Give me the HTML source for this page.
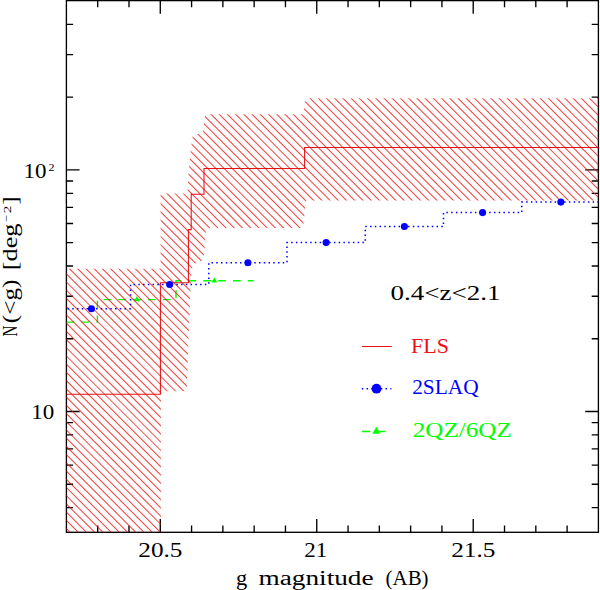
<!DOCTYPE html>
<html lang="en"><head><meta charset="utf-8"><title>N(&lt;g) vs g magnitude</title>
<style>html,body{margin:0;padding:0;background:#fff}body{width:600px;height:590px;overflow:hidden}svg{display:block}text{font-family:"Liberation Serif","DejaVu Serif",serif;font-size:20.5px;fill:#000}</style></head><body>
<svg width="600" height="590" viewBox="0 0 600 590">
<rect width="600" height="590" fill="#fff"/>
<defs>
</defs>
<polygon fill="#fffcfc" points="66.4,268.7 160.6,268.7 160.6,193.6 187.4,193.6 188.6,173.4 190.7,151 192.5,136.5 203.2,131.5 204.2,123.3 205.3,114.2 303.4,114.2 305.6,98.3 598.4,98.3 598.4,200.6 306,200.6 303,228 206,228.2 205,245 203.8,255 202,261 192.6,264.5 190.7,283 189.6,314 188.1,350 186.8,391.2 160.9,391.2 160.9,532.3 66.4,532.3"/>
<g stroke="#000" stroke-width="1.35" fill="none">
<rect x="66.4" y="0.6" width="532" height="531.7"/>
<path d="M97.69 532.3v-6.7M97.69 0.6v6.7M128.99 532.3v-6.7M128.99 0.6v6.7M160.28 532.3v-13.2M160.28 0.6v13.2M191.58 532.3v-6.7M191.58 0.6v6.7M222.87 532.3v-6.7M222.87 0.6v6.7M254.16 532.3v-6.7M254.16 0.6v6.7M285.46 532.3v-6.7M285.46 0.6v6.7M316.75 532.3v-13.2M316.75 0.6v13.2M348.05 532.3v-6.7M348.05 0.6v6.7M379.34 532.3v-6.7M379.34 0.6v6.7M410.64 532.3v-6.7M410.64 0.6v6.7M441.93 532.3v-6.7M441.93 0.6v6.7M473.22 532.3v-13.2M473.22 0.6v13.2M504.52 532.3v-6.7M504.52 0.6v6.7M535.81 532.3v-6.7M535.81 0.6v6.7M567.11 532.3v-6.7M567.11 0.6v6.7M66.4 507.64h6.7M598.4 507.64h-6.7M66.4 484.23h6.7M598.4 484.23h-6.7M66.4 465.1h6.7M598.4 465.1h-6.7M66.4 448.92h6.7M598.4 448.92h-6.7M66.4 434.91h6.7M598.4 434.91h-6.7M66.4 422.56h6.7M598.4 422.56h-6.7M66.4 411.5h13.2M598.4 411.5h-13.2M66.4 338.77h6.7M598.4 338.77h-6.7M66.4 296.23h6.7M598.4 296.23h-6.7M66.4 266.04h6.7M598.4 266.04h-6.7M66.4 242.63h6.7M598.4 242.63h-6.7M66.4 223.5h6.7M598.4 223.5h-6.7M66.4 207.32h6.7M598.4 207.32h-6.7M66.4 193.31h6.7M598.4 193.31h-6.7M66.4 180.96h6.7M598.4 180.96h-6.7M66.4 169.9h13.2M598.4 169.9h-13.2M66.4 97.17h6.7M598.4 97.17h-6.7M66.4 54.63h6.7M598.4 54.63h-6.7M66.4 24.44h6.7M598.4 24.44h-6.7"/>
</g>
<polyline fill="none" stroke="#00ff00" stroke-width="1.4" stroke-dasharray="7.7 7.13" stroke-dashoffset="14.55" points="66.4,322.1 97.4,322.1 97.4,299.6 176,299.6 176,280.8 253.6,280.8"/>
<polygon fill="#00ff00" points="136.9,296.06 139.8,301.26 134,301.26"/>
<polygon fill="#00ff00" points="214.4,277.26 217.3,282.46 211.5,282.46"/>
<clipPath id="hc"><polygon points="66.4,268.7 160.6,268.7 160.6,193.6 187.4,193.6 188.6,173.4 190.7,151 192.5,136.5 203.2,131.5 204.2,123.3 205.3,114.2 303.4,114.2 305.6,98.3 598.4,98.3 598.4,200.6 306,200.6 303,228 206,228.2 205,245 203.8,255 202,261 192.6,264.5 190.7,283 189.6,314 188.1,350 186.8,391.2 160.9,391.2 160.9,532.3 66.4,532.3"/></clipPath>
<path clip-path="url(#hc)" d="M-372.24 90L72.06 534.3M-364.02 90L80.28 534.3M-355.8 90L88.5 534.3M-347.58 90L96.72 534.3M-339.36 90L104.94 534.3M-331.14 90L113.16 534.3M-322.92 90L121.38 534.3M-314.7 90L129.6 534.3M-306.48 90L137.82 534.3M-298.26 90L146.04 534.3M-290.04 90L154.26 534.3M-281.82 90L162.48 534.3M-273.6 90L170.7 534.3M-265.38 90L178.92 534.3M-257.16 90L187.14 534.3M-248.94 90L195.36 534.3M-240.72 90L203.58 534.3M-232.5 90L211.8 534.3M-224.28 90L220.02 534.3M-216.06 90L228.24 534.3M-207.84 90L236.46 534.3M-199.62 90L244.68 534.3M-191.4 90L252.9 534.3M-183.18 90L261.12 534.3M-174.96 90L269.34 534.3M-166.74 90L277.56 534.3M-158.52 90L285.78 534.3M-150.3 90L294 534.3M-142.08 90L302.22 534.3M-133.86 90L310.44 534.3M-125.64 90L318.66 534.3M-117.42 90L326.88 534.3M-109.2 90L335.1 534.3M-100.98 90L343.32 534.3M-92.76 90L351.54 534.3M-84.54 90L359.76 534.3M-76.32 90L367.98 534.3M-68.1 90L376.2 534.3M-59.88 90L384.42 534.3M-51.66 90L392.64 534.3M-43.44 90L400.86 534.3M-35.22 90L409.08 534.3M-27 90L417.3 534.3M-18.78 90L425.52 534.3M-10.56 90L433.74 534.3M-2.34 90L441.96 534.3M5.88 90L450.18 534.3M14.1 90L458.4 534.3M22.32 90L466.62 534.3M30.54 90L474.84 534.3M38.76 90L483.06 534.3M46.98 90L491.28 534.3M55.2 90L499.5 534.3M63.42 90L507.72 534.3M71.64 90L515.94 534.3M79.86 90L524.16 534.3M88.08 90L532.38 534.3M96.3 90L540.6 534.3M104.52 90L548.82 534.3M112.74 90L557.04 534.3M120.96 90L565.26 534.3M129.18 90L573.48 534.3M137.4 90L581.7 534.3M145.62 90L589.92 534.3M153.84 90L598.14 534.3M162.06 90L606.36 534.3M170.28 90L614.58 534.3M178.5 90L622.8 534.3M186.72 90L631.02 534.3M194.94 90L639.24 534.3M203.16 90L647.46 534.3M211.38 90L655.68 534.3M219.6 90L663.9 534.3M227.82 90L672.12 534.3M236.04 90L680.34 534.3M244.26 90L688.56 534.3M252.48 90L696.78 534.3M260.7 90L705 534.3M268.92 90L713.22 534.3M277.14 90L721.44 534.3M285.36 90L729.66 534.3M293.58 90L737.88 534.3M301.8 90L746.1 534.3M310.02 90L754.32 534.3M318.24 90L762.54 534.3M326.46 90L770.76 534.3M334.68 90L778.98 534.3M342.9 90L787.2 534.3M351.12 90L795.42 534.3M359.34 90L803.64 534.3M367.56 90L811.86 534.3M375.78 90L820.08 534.3M384 90L828.3 534.3M392.22 90L836.52 534.3M400.44 90L844.74 534.3M408.66 90L852.96 534.3M416.88 90L861.18 534.3M425.1 90L869.4 534.3M433.32 90L877.62 534.3M441.54 90L885.84 534.3M449.76 90L894.06 534.3M457.98 90L902.28 534.3M466.2 90L910.5 534.3M474.42 90L918.72 534.3M482.64 90L926.94 534.3M490.86 90L935.16 534.3M499.08 90L943.38 534.3M507.3 90L951.6 534.3M515.52 90L959.82 534.3M523.74 90L968.04 534.3M531.96 90L976.26 534.3M540.18 90L984.48 534.3M548.4 90L992.7 534.3M556.62 90L1000.92 534.3M564.84 90L1009.14 534.3M573.06 90L1017.36 534.3M581.28 90L1025.58 534.3M589.5 90L1033.8 534.3M597.72 90L1042.02 534.3" stroke="#e81212" stroke-width="1.02" stroke-opacity="0.78" fill="none"/>
<polyline fill="none" stroke="#e41014" stroke-width="1.05" stroke-linejoin="miter" points="66.4,394.3 160.4,394.3 160.4,282.8 188.4,282.8 188.4,229.6 191.2,229.6 191.2,194.3 204,194.3 204,168.4 304.6,168.4 304.6,147.4 598.4,147.4"/>
<polyline fill="none" stroke="#0000ff" stroke-width="1.5" stroke-dasharray="1.5 3.25" stroke-dashoffset="-1.1" points="66.4,308.7 130.55,308.7 130.55,284.5 208.79,284.5 208.79,262.7 287.02,262.7 287.02,242.6 365.26,242.6 365.26,226.5 443.49,226.5 443.49,212.6 521.73,212.6 521.73,202.1 598.4,202.1"/>
<circle cx="91.44" cy="308.7" r="3.55" fill="#0000ff"/>
<circle cx="169.67" cy="284.5" r="3.55" fill="#0000ff"/>
<circle cx="247.91" cy="262.7" r="3.55" fill="#0000ff"/>
<circle cx="326.14" cy="242.6" r="3.55" fill="#0000ff"/>
<circle cx="404.38" cy="226.5" r="3.55" fill="#0000ff"/>
<circle cx="482.61" cy="212.6" r="3.55" fill="#0000ff"/>
<circle cx="560.85" cy="202.1" r="3.55" fill="#0000ff"/>
<text x="138.3" y="557.3" textLength="44.2" lengthAdjust="spacingAndGlyphs">20.5</text>
<text x="304.2" y="557.3" textLength="23" lengthAdjust="spacingAndGlyphs">21</text>
<text x="451.2" y="557.3" textLength="44.2" lengthAdjust="spacingAndGlyphs">21.5</text>
<text x="31.2" y="418.5" textLength="23" lengthAdjust="spacingAndGlyphs">10</text>
<text x="23.4" y="177.5" textLength="23" lengthAdjust="spacingAndGlyphs">10</text>
<text x="48.6" y="171" textLength="6" lengthAdjust="spacingAndGlyphs" style="font-size:11.3px">2</text>
<text x="236" y="584.8" textLength="11.2" lengthAdjust="spacingAndGlyphs">g</text>
<text x="258.6" y="584.8" textLength="115" lengthAdjust="spacingAndGlyphs">magnitude</text>
<text x="385.6" y="584.8" textLength="43" lengthAdjust="spacingAndGlyphs">(AB)</text>
<text x="390.5" y="300.3" textLength="110" lengthAdjust="spacingAndGlyphs">0.4&lt;z&lt;2.1</text>
<text x="411" y="352.8" textLength="38" lengthAdjust="spacingAndGlyphs" style="fill:#f01014">FLS</text>
<text x="412.2" y="394.1" textLength="66.5" lengthAdjust="spacingAndGlyphs" style="fill:#0000ff">2SLAQ</text>
<text x="412.8" y="437.2" textLength="99" lengthAdjust="spacingAndGlyphs" style="fill:#00ff00">2QZ/6QZ</text>
<g transform="translate(16.5 0) rotate(-90)">
<text x="-336.4" y="0" textLength="10.8" lengthAdjust="spacingAndGlyphs">N</text>
<text x="-323.2" y="0" textLength="43.6" lengthAdjust="spacingAndGlyphs">(&lt;g)</text>
<text x="-270.3" y="0" textLength="46.8" lengthAdjust="spacingAndGlyphs">[deg</text>
<text x="-222" y="-6.7" textLength="7" lengthAdjust="spacingAndGlyphs" style="font-size:11.3px">−</text>
<text x="-213.3" y="-5.9" textLength="7.6" lengthAdjust="spacingAndGlyphs" style="font-size:11.3px">2</text>
<text x="-204.6" y="0" textLength="8" lengthAdjust="spacingAndGlyphs">]</text>
</g>
<path d="M361.9 346.5H391.7" stroke="#e41014" stroke-width="1.05" fill="none"/>
<path d="M361.8 388.7H391.4" stroke="#0000ff" stroke-width="1.5" stroke-dasharray="1.5 3.25" fill="none"/>
<circle cx="376.5" cy="388.7" r="4.9" fill="#0000ff"/>
<path d="M362 431.5H370.3M379.8 431.5H385.3" stroke="#00ff00" stroke-width="1.4" fill="none"/>
<polygon fill="#00ff00" points="376.4,426.74 380.5,433.74 372.3,433.74"/>
</svg></body></html>
